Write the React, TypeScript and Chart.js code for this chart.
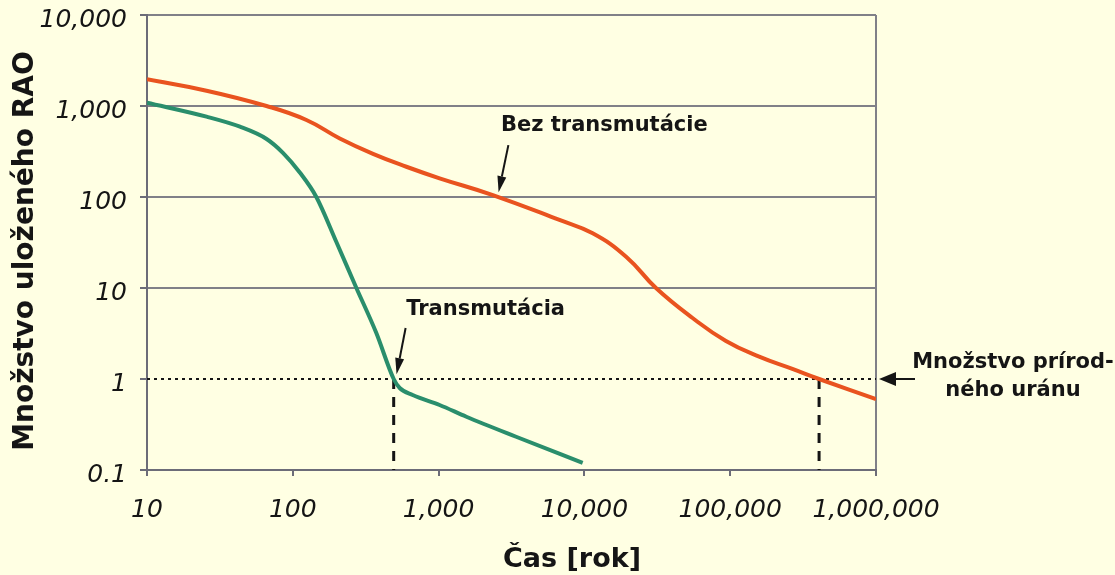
import React, { useEffect, useRef } from 'react';
import { Chart, registerables } from 'chart.js';

Chart.register(...registerables);

// ---- data ----
const bezX = [10, 25.6, 66, 124, 210, 355, 601, 1016, 2355, 6745, 11400, 19320, 30970, 55200, 93500, 158000, 267000, 407000, 1000000];
const bezY = [1965, 1472, 1000, 702, 440, 298, 215, 160.5, 105, 55.9, 39.9, 22.1, 10, 4.68, 2.62, 1.76, 1.29, 1.0, 0.6];

const transX = [10, 25.6, 43.4, 66.1, 85.9, 111.7, 145, 199, 273, 374, 492, 541, 664, 1016, 1550, 3400, 9730];
const transY = [1087, 763, 592, 434, 304, 186, 100, 32, 10, 3.2, 1.0, 0.796, 0.667, 0.518, 0.385, 0.232, 0.12];

const xTickValues = [10, 100, 1000, 10000, 100000, 1000000];
const xTickLabels = ['10', '100', '1,000', '10,000', '100,000', '1,000,000'];
const yTickValues = [0.1, 1, 10, 100, 1000, 10000];
const yTickLabels = ['0.1', '1', '10', '100', '1,000', '10,000'];

const uraniumLevel = 1;
const transCrossX = 492;
const bezCrossX = 407000;

const xTitle = 'Čas [rok]';
const yTitle = 'Množstvo uloženého RAO';
const bezLabel = 'Bez transmutácie';
const transLabel = 'Transmutácia';
const uraniumLabel1 = 'Množstvo prírod-';
const uraniumLabel2 = 'ného uránu';

// annotation anchors in data space
const bezArrow = { tail: [3010, 372], tip: [2580, 113], text: [13700, 617] };
const transArrow = { tail: [594, 3.63], tip: [515, 1.13], text: [2100, 5.87] };

const BG = '#FFFFE3';
const ORANGE = '#E9531F';
const GREEN = '#2A8E6C';
const GRID = '#808088';
const BORDER = '#6c6c78';
const TEXT = '#151515';

function drawArrow(ctx: CanvasRenderingContext2D, x1: number, y1: number, x2: number, y2: number, headLen: number, headW: number, lw: number) {
  const ang = Math.atan2(y2 - y1, x2 - x1);
  const bx = x2 - headLen * Math.cos(ang);
  const by = y2 - headLen * Math.sin(ang);
  ctx.save();
  ctx.strokeStyle = TEXT;
  ctx.fillStyle = TEXT;
  ctx.lineWidth = lw;
  ctx.setLineDash([]);
  ctx.beginPath();
  ctx.moveTo(x1, y1);
  ctx.lineTo(bx, by);
  ctx.stroke();
  ctx.beginPath();
  ctx.moveTo(x2, y2);
  ctx.lineTo(bx + headW * Math.sin(ang), by - headW * Math.cos(ang));
  ctx.lineTo(bx - headW * Math.sin(ang), by + headW * Math.cos(ang));
  ctx.closePath();
  ctx.fill();
  ctx.restore();
}

const annotationPlugin = {
  id: 'annotations',
  beforeDraw(chart: any) {
    const ctx = chart.ctx;
    ctx.save();
    ctx.fillStyle = BG;
    ctx.fillRect(0, 0, chart.width, chart.height);
    ctx.restore();
  },
  beforeDatasetsDraw(chart: any) {
    const ctx = chart.ctx as CanvasRenderingContext2D;
    const xs = chart.scales.x;
    const ys = chart.scales.y;
    const ca = chart.chartArea;
    const yU = ys.getPixelForValue(uraniumLevel);
    ctx.save();
    ctx.strokeStyle = TEXT;
    ctx.lineWidth = 2;
    ctx.setLineDash([3, 4]);
    ctx.beginPath();
    ctx.moveTo(ca.left, yU);
    ctx.lineTo(ca.right, yU);
    ctx.stroke();
    ctx.lineWidth = 3;
    ctx.setLineDash([10, 8]);
    [transCrossX, bezCrossX].forEach((v) => {
      const px = xs.getPixelForValue(v);
      ctx.beginPath();
      ctx.moveTo(px, yU);
      ctx.lineTo(px, ca.bottom);
      ctx.stroke();
    });
    ctx.restore();
  },
  afterDatasetsDraw(chart: any) {
    const ctx = chart.ctx as CanvasRenderingContext2D;
    const xs = chart.scales.x;
    const ys = chart.scales.y;
    const ca = chart.chartArea;
    const P = (p: number[]) => [xs.getPixelForValue(p[0]), ys.getPixelForValue(p[1])];

    [bezArrow, transArrow].forEach((a) => {
      const t = P(a.tail);
      const h = P(a.tip);
      drawArrow(ctx, t[0], t[1], h[0], h[1], 16, 4.5, 2);
    });

    const yU = ys.getPixelForValue(uraniumLevel);
    drawArrow(ctx, ca.right + 39, yU, ca.right + 3, yU, 17, 7, 2);

    ctx.save();
    ctx.fillStyle = TEXT;
    ctx.font = 'bold 21px "DejaVu Sans"';
    ctx.textAlign = 'center';
    ctx.textBaseline = 'middle';
    const bt = P(bezArrow.text);
    ctx.fillText(bezLabel, bt[0], bt[1]);
    const tt = P(transArrow.text);
    ctx.fillText(transLabel, tt[0], tt[1]);
    ctx.fillText(uraniumLabel1, ca.right + 137, yU - 16);
    ctx.fillText(uraniumLabel2, ca.right + 137, yU + 12);

    ctx.textBaseline = 'alphabetic';
    ctx.font = 'bold 27px "DejaVu Sans"';
    ctx.fillText(xTitle, 572, 567);
    ctx.font = 'bold 28px "DejaVu Sans"';
    ctx.translate(33, 251);
    ctx.rotate(-Math.PI / 2);
    ctx.fillText(yTitle, 0, 0);
    ctx.restore();
  },
};

export default function App() {
  const ref = useRef<HTMLCanvasElement | null>(null);

  useEffect(() => {
    document.body.style.margin = '0';
    document.body.style.background = BG;
    const canvas = ref.current;
    if (!canvas) return;
    const tickFont = { family: '"DejaVu Sans"', size: 25, style: 'italic' as const };
    const chart = new Chart(canvas, {
      type: 'line',
      data: {
        datasets: [
          {
            label: bezLabel,
            data: bezX.map((x, i) => ({ x, y: bezY[i] })),
            borderColor: ORANGE,
            backgroundColor: ORANGE,
            borderWidth: 4,
            pointRadius: 0,
            tension: 0.45,
            fill: false,
          },
          {
            label: transLabel,
            data: transX.map((x, i) => ({ x, y: transY[i] })),
            borderColor: GREEN,
            backgroundColor: GREEN,
            borderWidth: 4,
            pointRadius: 0,
            cubicInterpolationMode: 'monotone',
            fill: false,
          },
        ],
      },
      options: {
        animation: false,
        responsive: false,
        devicePixelRatio: 1,
        layout: { padding: { top: 15, right: 239, left: 0, bottom: 0 } },
        plugins: {
          legend: { display: false },
          tooltip: { enabled: false },
          title: { display: false },
        },
        scales: {
          x: {
            type: 'logarithmic',
            min: 10,
            max: 1000000,
            afterBuildTicks: (s: any) => {
              s.ticks = xTickValues.map((v) => ({ value: v }));
            },
            afterFit: (s: any) => {
              s.height = 105;
              s.paddingLeft = 0;
              s.paddingRight = 0;
            },
            ticks: {
              callback: (v: any) => xTickLabels[xTickValues.indexOf(Number(v))] ?? '',
              font: tickFont,
              color: TEXT,
              padding: 19,
              maxRotation: 0,
              autoSkip: false,
            },
            grid: {
              color: (c: any) => (c.tick && c.tick.value === 1000000 ? GRID : 'rgba(0,0,0,0)'),
              tickColor: BORDER,
              tickLength: 6,
              lineWidth: 2,
            },
            border: { color: BORDER, width: 2 },
          },
          y: {
            type: 'logarithmic',
            min: 0.1,
            max: 10000,
            afterBuildTicks: (s: any) => {
              s.ticks = yTickValues.map((v) => ({ value: v }));
            },
            afterFit: (s: any) => {
              s.width = 147;
              s.paddingTop = 0;
              s.paddingBottom = 0;
            },
            ticks: {
              callback: (v: any) => yTickLabels[yTickValues.indexOf(Number(v))] ?? '',
              font: tickFont,
              color: TEXT,
              padding: 13,
              labelOffset: 5,
              autoSkip: false,
            },
            grid: {
              color: (c: any) => (c.tick && c.tick.value >= 10 ? GRID : 'rgba(0,0,0,0)'),
              tickColor: BORDER,
              tickLength: 7,
              lineWidth: 2,
            },
            border: { color: BORDER, width: 2 },
          },
        },
      } as any,
      plugins: [annotationPlugin],
    });
    return () => chart.destroy();
  }, []);

  return (
    <div style={{ width: 1115, height: 575, background: BG }}>
      <canvas ref={ref} width={1115} height={575} style={{ display: 'block' }} />
    </div>
  );
}
